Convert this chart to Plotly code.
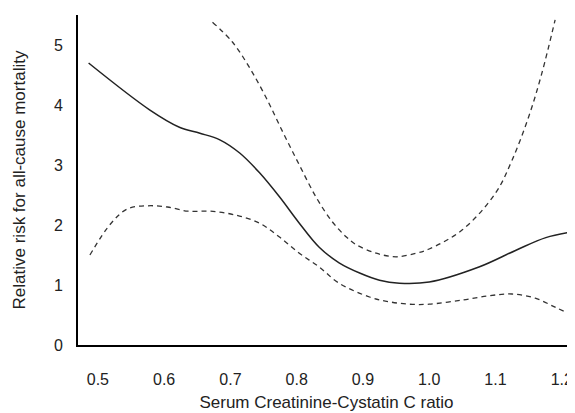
import plotly.graph_objects as go

# Data
solid_x = [0.486, 0.578, 0.623, 0.654, 0.684, 0.714, 0.744, 0.774, 0.804, 0.834, 0.864, 0.895, 0.925, 0.955, 1.0, 1.075, 1.131, 1.176, 1.218]
solid_y = [4.70, 3.92, 3.63, 3.53, 3.42, 3.20, 2.87, 2.47, 2.03, 1.63, 1.37, 1.20, 1.08, 1.03, 1.05, 1.30, 1.58, 1.79, 1.89]

upper_x = [0.673, 0.703, 0.729, 0.754, 0.779, 0.804, 0.830, 0.854, 0.875, 0.890, 0.920, 0.950, 0.980, 1.0, 1.05, 1.10, 1.125, 1.15, 1.17, 1.19]
upper_y = [5.38, 5.05, 4.62, 4.12, 3.55, 3.00, 2.45, 2.05, 1.80, 1.67, 1.53, 1.47, 1.53, 1.60, 1.92, 2.53, 3.08, 3.80, 4.53, 5.42]

lower_x = [0.488, 0.520, 0.545, 0.575, 0.605, 0.636, 0.670, 0.706, 0.744, 0.774, 0.804, 0.834, 0.864, 0.910, 0.940, 0.970, 1.0, 1.05, 1.09, 1.125, 1.16, 1.19, 1.215]
lower_y = [1.50, 2.03, 2.27, 2.32, 2.30, 2.23, 2.23, 2.17, 2.03, 1.80, 1.53, 1.30, 1.03, 0.80, 0.72, 0.68, 0.68, 0.75, 0.82, 0.85, 0.78, 0.63, 0.50]

x_ticks = [0.5, 0.6, 0.7, 0.8, 0.9, 1.0, 1.1, 1.2]
x_tick_labels = ["0.5", "0.6", "0.7", "0.8", "0.9", "1.0", "1.1", "1.2"]
y_ticks = [0, 1, 2, 3, 4, 5]

fig = go.Figure()
fig.add_trace(go.Scatter(x=solid_x, y=solid_y, mode="lines", line=dict(color="#222", width=1.5, shape="spline")))
fig.add_trace(go.Scatter(x=upper_x, y=upper_y, mode="lines", line=dict(color="#333", width=1.3, dash="5px,4px", shape="spline")))
fig.add_trace(go.Scatter(x=lower_x, y=lower_y, mode="lines", line=dict(color="#333", width=1.3, dash="5px,4px", shape="spline")))

# page body has an 8px default margin, so the figure is sized to fill the rest of the window
fig.update_layout(
    width=567, height=405,
    margin=dict(l=70, r=0, t=7, b=68),
    paper_bgcolor="white", plot_bgcolor="white",
    showlegend=False,
    font=dict(family="Liberation Sans, Arial, sans-serif", size=16, color="#222"),
    xaxis=dict(range=[0.47, 1.22], tickvals=x_ticks, ticktext=x_tick_labels,
               showline=True, linecolor="black", linewidth=2, showgrid=False, zeroline=False,
               ticks="outside", ticklen=19, tickcolor="rgba(0,0,0,0)",
               title=dict(text="Serum Creatinine-Cystatin C ratio", font=dict(size=17), standoff=9)),
    yaxis=dict(range=[0, 5.5], tickvals=y_ticks,
               showline=True, linecolor="black", linewidth=2, showgrid=False, zeroline=False,
               ticks="outside", ticklen=10, tickcolor="rgba(0,0,0,0)",
               title=dict(text="Relative risk for all-cause mortality", font=dict(size=17), standoff=24)),
)

fig.write_html("out.html")
